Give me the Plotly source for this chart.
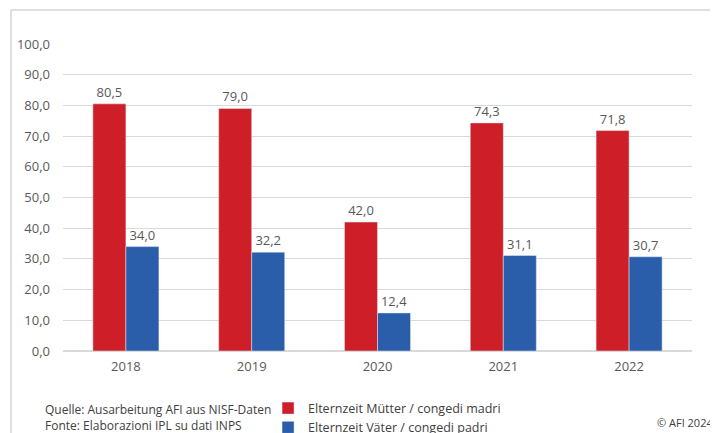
import plotly.graph_objects as go

years = ["2018", "2019", "2020", "2021", "2022"]
mothers = [80.5, 79.0, 42.0, 74.3, 71.8]
fathers = [34.0, 32.2, 12.4, 31.1, 30.7]

name_mothers = "Elternzeit Mütter / congedi madri"
name_fathers = "Elternzeit Väter / congedi padri"

FONT = "Open Sans"
GRAY = "#595959"

fig = go.Figure()

fig.add_trace(
    go.Bar(
        name=name_mothers,
        x=years,
        y=mothers,
        marker_color="#CE1F28",
        texttemplate="%{y:.1f}",
        textposition="outside",
        textfont=dict(size=13, color=GRAY),
        cliponaxis=False,
    )
)
fig.add_trace(
    go.Bar(
        name=name_fathers,
        x=years,
        y=fathers,
        marker_color="#2A5DAA",
        texttemplate="%{y:.1f}",
        textposition="outside",
        textfont=dict(size=13, color=GRAY),
        cliponaxis=False,
    )
)

# Rahmen um die Grafik (rechts und unten abgeschnitten)
fig.add_shape(
    type="path",
    path="M -0.0827,-0.4 L -0.0827,1.1107 L 1.1,1.1107",
    xref="paper",
    yref="paper",
    line=dict(color="#BFBFBF", width=1),
)

fig.add_annotation(
    text="Quelle: Ausarbeitung AFI aus NISF-Daten<br>Fonte: Elaborazioni IPL su dati INPS",
    xref="paper",
    yref="paper",
    x=-0.0318,
    y=-0.215,
    xanchor="left",
    yanchor="middle",
    align="left",
    showarrow=False,
    font=dict(family=FONT, size=12, color="#404040"),
)
fig.add_annotation(
    text="© AFI 2024",
    xref="paper",
    yref="paper",
    x=1.037,
    y=-0.2313,
    xanchor="right",
    yanchor="middle",
    showarrow=False,
    font=dict(family=FONT, size=11, color="#404040"),
)

fig.update_layout(
    width=718,
    height=433,
    margin=dict(l=55, r=34, t=36, b=90, autoexpand=False),
    paper_bgcolor="white",
    plot_bgcolor="white",
    barmode="group",
    bargap=0.475,
    bargroupgap=0,
    separators=",.",
    font=dict(family=FONT, size=12, color=GRAY),
    showlegend=True,
    legend=dict(
        orientation="v",
        x=0.326,
        y=-0.1384,
        xanchor="left",
        yanchor="top",
        font=dict(family=FONT, size=12.5, color="#404040"),
        itemwidth=30,
        tracegroupgap=0,
    ),
    xaxis=dict(
        showline=False,
        ticks="",
        ticklabelstandoff=6,
        tickfont=dict(size=13, color=GRAY),
    ),
    yaxis=dict(
        range=[0, 100],
        dtick=10,
        tickformat=".1f",
        showgrid=True,
        gridcolor="#D9D9D9",
        gridwidth=1,
        zeroline=True,
        zerolinecolor="#D9D9D9",
        showline=False,
        ticks="",
        ticklabelstandoff=12,
        tickfont=dict(size=13, color=GRAY),
    ),
)

fig.write_html("out.html")
